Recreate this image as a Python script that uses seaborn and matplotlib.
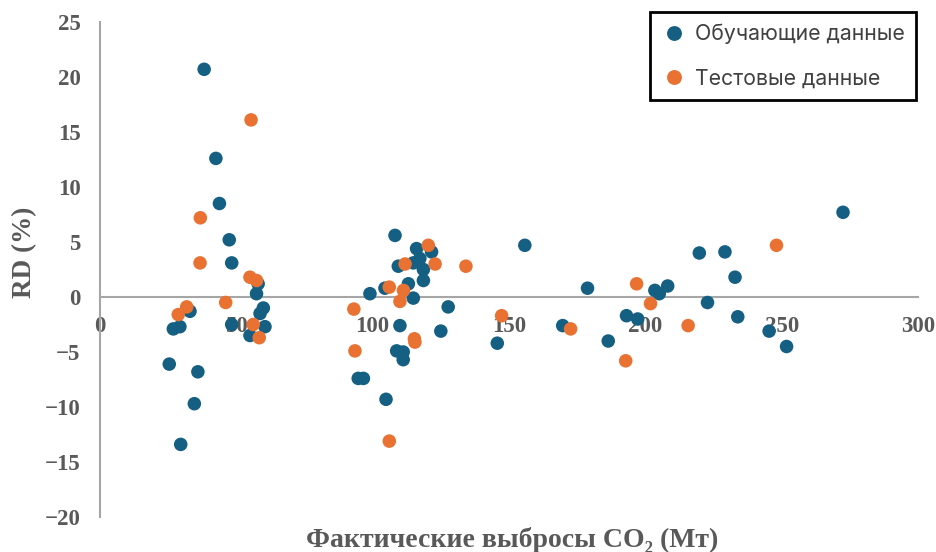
import matplotlib
matplotlib.use("Agg")
import matplotlib.pyplot as plt
import seaborn as sns
import pandas as pd

# ---- data ----
series_names = ["Обучающие данные", "Тестовые данные"]

train_x = [38.2, 42.5, 43.8, 47.4, 48.3, 58.0, 57.4, 59.9, 58.7, 33.0,
           26.9, 29.3, 48.3, 60.5, 55.0, 25.4, 35.9, 34.6, 29.6,
           108.2, 116.1, 121.6, 117.3, 114.9, 109.4, 118.6, 118.6, 113.1, 104.5,
           99.0, 114.9, 127.7, 110.0, 125.0, 108.8, 111.2, 111.2, 94.7, 96.6, 104.9,
           155.8, 219.8, 229.2, 232.9, 178.8, 203.5, 205.1, 208.2, 222.8, 193.1,
           197.2, 233.9, 169.7, 245.4, 145.7, 186.4, 251.8, 272.5]
train_y = [20.7, 12.6, 8.5, 5.2, 3.1, 1.2, 0.3, -1.0, -1.5, -1.3,
           -2.9, -2.7, -2.5, -2.7, -3.5, -6.1, -6.8, -9.7, -13.4,
           5.6, 4.4, 4.1, 3.5, 3.1, 2.8, 2.5, 1.5, 1.2, 0.8,
           0.3, -0.1, -0.9, -2.6, -3.1, -4.9, -5.0, -5.7, -7.4, -7.4, -9.3,
           4.7, 4.0, 4.1, 1.8, 0.8, 0.6, 0.3, 1.0, -0.5, -1.7,
           -2.0, -1.8, -2.6, -3.1, -4.2, -4.0, -4.5, 7.7]

test_x = [55.4, 36.8, 36.7, 55.0, 57.4, 46.1, 31.8, 28.7, 56.2, 58.4,
          120.4, 111.9, 122.9, 134.2, 106.1, 111.3, 110.0, 93.1, 115.3, 115.5,
          93.5, 106.1, 248.1, 196.8, 201.9, 147.3, 172.6, 215.7, 192.8]
test_y = [16.1, 7.2, 3.1, 1.8, 1.5, -0.5, -0.9, -1.6, -2.5, -3.7,
          4.7, 3.0, 3.0, 2.8, 0.9, 0.6, -0.4, -1.1, -3.8, -4.1,
          -4.9, -13.1, 4.7, 1.2, -0.6, -1.7, -2.9, -2.6, -5.8]

x_ticks = [0, 50, 100, 150, 200, 250, 300]
y_ticks = [-20, -15, -10, -5, 0, 5, 10, 15, 20, 25]

x_label = "Фактические выбросы CO\u2082 (Мт)"
y_label = "RD (%)"

df = pd.DataFrame({
    "x": train_x + test_x,
    "y": train_y + test_y,
    "set": [series_names[0]] * len(train_x) + [series_names[1]] * len(test_x),
})

# ---- style ----
sns.set_style("white")
plt.rcParams["font.family"] = ["Liberation Serif", "DejaVu Serif"]

gray_txt = "#595959"
axis_col = "#A6A6A6"
palette = {series_names[0]: "#156082", series_names[1]: "#E97132"}

fig = plt.figure(figsize=(9.37, 5.52), dpi=100)
ax = fig.add_axes([100 / 937, 35 / 552, 818 / 937, 495 / 552])

sns.scatterplot(data=df, x="x", y="y", hue="set", palette=palette,
                hue_order=series_names, s=95, linewidth=0, alpha=1,
                ax=ax, zorder=3)

ax.set_xlim(0, 300)
ax.set_ylim(-20, 25)
ax.set_xticks(x_ticks)
ax.set_yticks(y_ticks)

for side in ["top", "right"]:
    ax.spines[side].set_visible(False)
ax.spines["bottom"].set_position(("data", 0))
for side in ["left", "bottom"]:
    ax.spines[side].set_color(axis_col)
    ax.spines[side].set_linewidth(1.5)
    ax.spines[side].set_zorder(1)

ax.tick_params(axis="both", length=0, labelsize=16.5, labelcolor=gray_txt)
ax.tick_params(axis="x", pad=14)
ax.tick_params(axis="y", pad=14)
for lab in ax.get_xticklabels() + ax.get_yticklabels():
    lab.set_fontweight("bold")

ax.set_xlabel(x_label, fontsize=20, fontweight="bold", color=gray_txt)
ax.set_ylabel(y_label, fontsize=19.5, fontweight="bold", color=gray_txt)
ax.xaxis.set_label_coords(0.504, -0.047)
ax.xaxis.label.set_va("center")
ax.yaxis.set_label_coords(-0.092, 0.535)
ax.yaxis.label.set_va("center")

handles, labels = ax.get_legend_handles_labels()
leg = ax.legend(handles, labels, loc="upper right",
                bbox_to_anchor=(916 / 937, 540 / 552),
                bbox_transform=fig.transFigure,
                prop={"family": ["Inter", "DejaVu Sans"], "size": 15.3},
                labelcolor="#404040", frameon=True, fancybox=False,
                edgecolor="black", framealpha=1, labelspacing=1.15,
                handletextpad=0.4, handlelength=1.15, borderpad=0.55,
                borderaxespad=0, markerscale=1.1)
leg.get_frame().set_linewidth(2)

fig.savefig("out.png", dpi=100)
